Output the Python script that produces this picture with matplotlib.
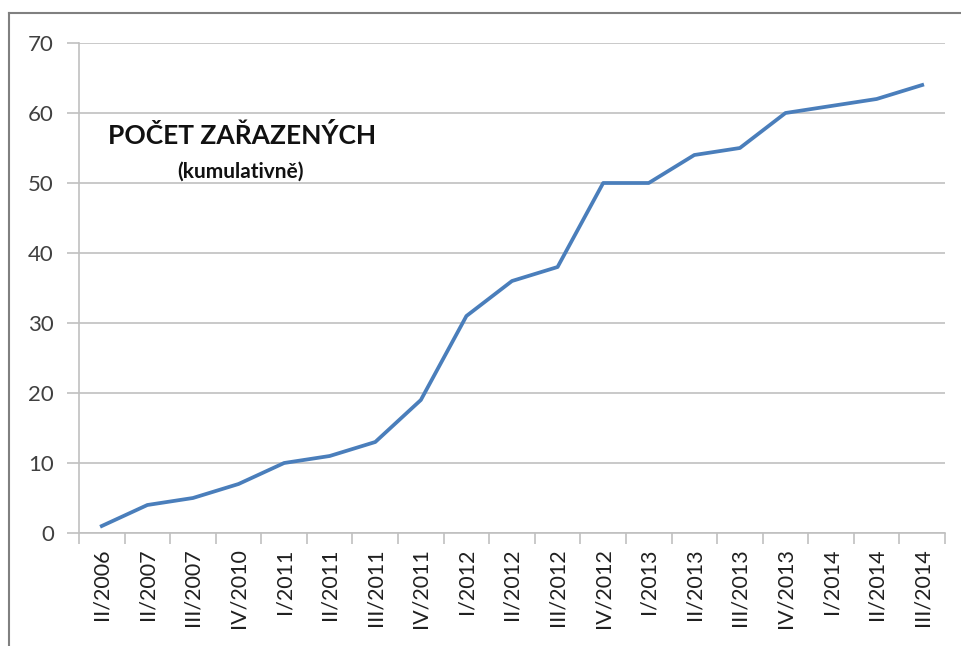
import matplotlib.pyplot as plt
from matplotlib.lines import Line2D

kvartaly = ["II/2006", "II/2007", "III/2007", "IV/2010", "I/2011", "II/2011",
            "III/2011", "IV/2011", "I/2012", "II/2012", "III/2012", "IV/2012",
            "I/2013", "II/2013", "III/2013", "IV/2013", "I/2014", "II/2014",
            "III/2014"]
pocet = [1, 4, 5, 7, 10, 11, 13, 19, 31, 36, 38, 50, 50, 54, 55, 60, 61, 62, 64]
y_ticks = [0, 10, 20, 30, 40, 50, 60, 70]

plt.rcParams['font.family'] = ['Lato', 'DejaVu Sans']

W, H = 961, 646
fig = plt.figure(figsize=(W / 100, H / 100), dpi=100)
ax = fig.add_axes([79 / W, 1 - 533 / H, (945 - 79) / W, (533 - 43) / H])

grid_c = "#c0c0c0"
x = list(range(len(kvartaly)))
ax.plot(x, pocet, color="#4a7ebb", lw=2.7, solid_joinstyle="round", zorder=3)

ax.set_xlim(-0.5, len(kvartaly) - 0.5)
ax.set_ylim(0, 70)
ax.set_yticks(y_ticks)
ax.tick_params(axis="y", length=9, width=1.2, color=grid_c, labelsize=16,
               labelcolor="#404040", pad=9)
ax.yaxis.grid(True, color=grid_c, lw=1.2)
ax.set_axisbelow(True)

ax.set_xticks(x)
ax.set_xticklabels(kvartaly, rotation=90, fontsize=15.5, color="#202020")
ax.tick_params(axis="x", which="major", length=0, pad=11)
ax.set_xticks([i - 0.5 for i in range(len(kvartaly) + 1)], minor=True)
ax.tick_params(axis="x", which="minor", length=8, width=1.2, color=grid_c)

for s in ["top", "right"]:
    ax.spines[s].set_visible(False)
for s in ["left", "bottom"]:
    ax.spines[s].set_color(grid_c)
    ax.spines[s].set_linewidth(1.2)

ax.text(0.188, 0.812, "POČET ZAŘAZENÝCH", transform=ax.transAxes,
        fontsize=19, fontweight="bold", ha="center", va="center", color="#111111")
ax.text(0.186, 0.737, "(kumulativně)", transform=ax.transAxes,
        fontsize=15, fontweight="bold", ha="center", va="center", color="#111111")

# ramecek grafu
fig.add_artist(Line2D([9 / W, 9 / W], [0, 1 - 13 / H], transform=fig.transFigure,
                      color="#808080", lw=1.5))
fig.add_artist(Line2D([9 / W, 1], [1 - 13 / H, 1 - 13 / H], transform=fig.transFigure,
                      color="#808080", lw=1.5))

fig.savefig("out.png", dpi=100)
